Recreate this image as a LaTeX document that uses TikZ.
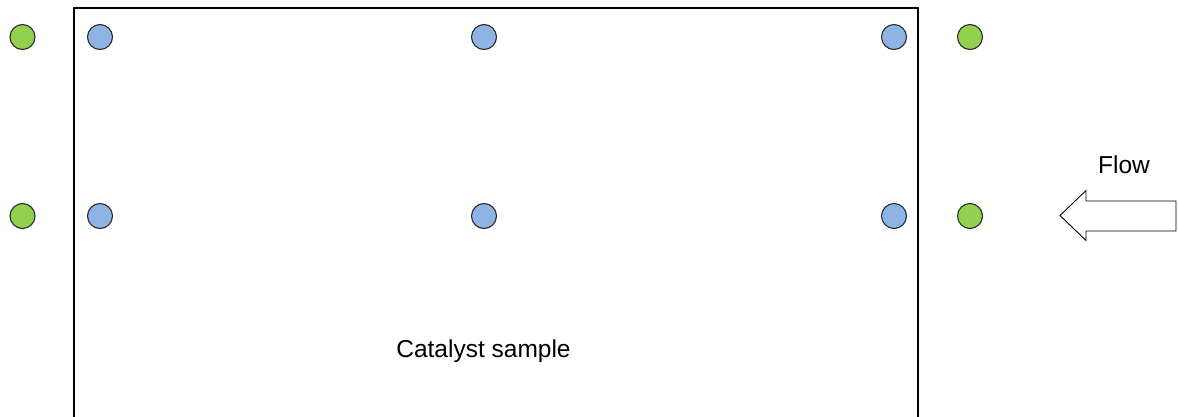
\documentclass[tikz,border=0pt]{standalone}
\usepackage{fontspec}
\setmainfont{Liberation Sans}
\definecolor{probegreen}{HTML}{92D050}
\definecolor{probeblue}{HTML}{8EB4E3}
\definecolor{rimgray}{HTML}{2B2B2B}
\begin{document}
\begin{tikzpicture}[x=1pt,y=-1pt,
  probe/.style={circle,draw=rimgray,line width=1.1pt,minimum size=25pt,inner sep=0pt},
  inlet/.style={probe,fill=probegreen},
  sensor/.style={probe,fill=probeblue},
  label/.style={font=\fontsize{24.5}{28}\selectfont,inner sep=0pt,anchor=base}]
\useasboundingbox (0,0) rectangle (1178,416);
\fill[white] (0,0) rectangle (1178,416);
% sample holder
\draw[line width=1.3pt] (74,417) -- (74,8) -- (918,8) -- (918,417);
\node[label] (sample) at (483.5,357) {Catalyst sample};
% probe positions
\foreach \r/\y in {a/37,b/216}{
  \node[inlet]  (g1\r) at (22.5,\y) {};
  \node[sensor] (s1\r) at (100,\y) {};
  \node[sensor] (s2\r) at (484,\y) {};
  \node[sensor] (s3\r) at (894,\y) {};
  \node[inlet]  (g2\r) at (970,\y) {};
}
% flow direction
\node[label] (flow) at (1124,173) {Flow};
\draw[line width=0.9pt,fill=white,line join=miter]
  (1060,215.5) -- (1086,190.5) -- (1086,201) -- (1176,201)
  -- (1176,231) -- (1086,231) -- (1086,240.5) -- cycle;
\end{tikzpicture}
\end{document}
